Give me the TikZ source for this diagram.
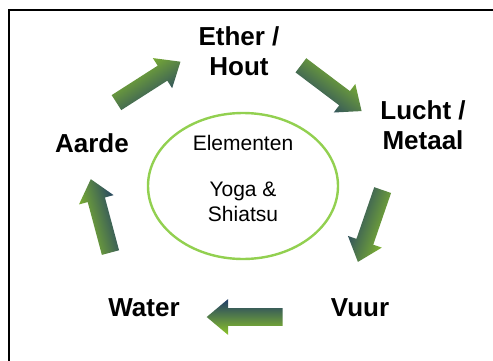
\documentclass[tikz,border=0pt]{standalone}
\usepackage{fontspec}
\setmainfont{Liberation Sans}
\usetikzlibrary{shapes.arrows,shapes.geometric,positioning}
\definecolor{ringgreen}{RGB}{146,208,80}
\definecolor{flowgreen}{RGB}{140,196,40}
\definecolor{flowblue}{RGB}{31,60,104}

\begin{document}
\begin{tikzpicture}[x=0.5pt,y=0.5pt,
  element/.style={font=\fontsize{13}{15}\selectfont\bfseries, align=center},
  centre/.style={font=\fontsize{10.5}{12.5}\selectfont, align=center},
  flow/.style={single arrow, draw=none, inner xsep=0pt, inner ysep=4.25pt, minimum height=38pt,
    minimum width=17.5pt, single arrow head extend=4.5pt, single arrow tip angle=80,
    rotate=#1, top color=flowgreen, bottom color=flowblue, shading angle=#1}]
  \useasboundingbox (0,0) rectangle (493,360);
  \clip (0,0) rectangle (493,360);
  % frame
  \draw[line width=1pt] (8.5,-10) |- (510,350.5);

  % centre
  \node[draw=ringgreen, line width=1.2pt, ellipse, minimum width=95pt, minimum height=73pt] (ring) at (243,174) {};
  \node[centre] (elem) at (243,217) {Elementen};
  \node[centre] (yoga) at (243,158) {Yoga \&\\Shiatsu};

  % elements round the cycle
  \node[element] (ether) at (239,309) {Ether /\\Hout};
  \node[element] (lucht) at (423,235) {Lucht /\\Metaal};
  \node[element] (vuur) at (360,52) {Vuur};
  \node[element] (water) at (144,52) {Water};
  \node[element] (aarde) at (92,217) {Aarde};

  % block arrows
  \node[flow=32.6] (f1) at (144,275) {};
  \node[flow=-37] (f2) at (327,275) {};
  \node[flow=-109] (f3) at (372,139) {};
  \node[flow=180] (f4) at (250,43) {};
  \node[flow=105] (f5) at (102,139) {};
\end{tikzpicture}
\end{document}
